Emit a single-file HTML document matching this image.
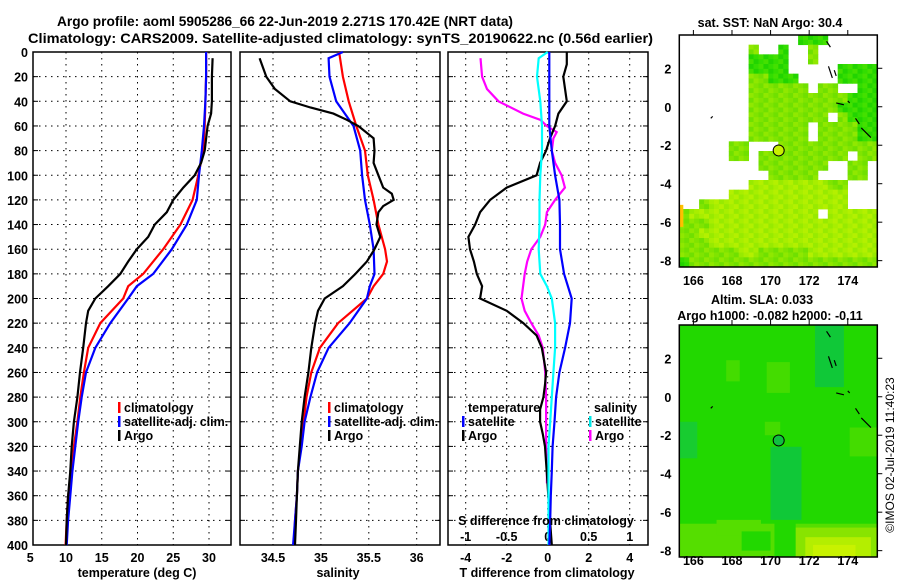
<!DOCTYPE html>
<html><head><meta charset="utf-8">
<style>
html,body{margin:0;padding:0;background:#fff;width:900px;height:580px;overflow:hidden}
svg{display:block;font-family:"Liberation Sans",Arial,sans-serif;font-weight:bold}
</style></head>
<body>
<svg id="chart" width="900" height="580" viewBox="0 0 900 580" xmlns="http://www.w3.org/2000/svg">
<text x="57" y="26" font-size="14" textLength="456" lengthAdjust="spacingAndGlyphs">Argo profile: aoml 5905286_66 22-Jun-2019 2.271S 170.42E (NRT data)</text>
<text x="28" y="43" font-size="14" textLength="625" lengthAdjust="spacingAndGlyphs">Climatology: CARS2009. Satellite-adjusted climatology: synTS_20190622.nc (0.56d earlier)</text>
<g id="g"></g>
</svg>
<script>
// ---------- data ----------
const depths = [0,20,40,60,80,100,120,140,160,180,190,200,220,240,260,280,300,320,340,360,380,400];
const tempClim = [29.6,29.6,29.5,29.4,29.2,28.5,27.7,26.0,23.6,20.8,18.7,18.0,14.8,13.1,12.5,12.0,11.6,11.1,10.8,10.3,10.1,9.95];
const tempSat  = [29.6,29.6,29.5,29.3,29.0,28.6,28.3,26.9,24.8,22.2,19.9,18.7,16.2,14.1,12.8,12.2,11.7,11.3,10.9,10.6,10.3,10.1];
const argoDepthT = [5,20,40,50,60,80,90,100,110,120,130,140,150,160,170,180,190,200,210,220,240,260,280,300,320,340,360,380,400];
const tempArgo = [30.5,30.4,30.4,30.3,29.8,29.4,28.9,28.0,26.4,25.0,24.1,22.4,21.5,19.9,18.7,17.6,15.9,14.1,13.1,12.8,12.4,11.96,11.6,11.1,10.8,10.6,10.3,10.1,10.0];

const salDepthC = [0,20,40,60,80,100,120,140,160,170,180,190,200,220,240,260,280,300,320,340,360,380,400];
const salClim = [35.19,35.23,35.29,35.37,35.46,35.49,35.55,35.60,35.67,35.69,35.65,35.55,35.48,35.18,34.99,34.90,34.85,34.82,34.79,34.76,34.75,34.73,34.72];
const salDepthS = [0,5,20,40,60,80,100,120,140,160,180,190,200,220,240,260,280,300,320,340,360,380,400];
const salSat = [35.23,35.08,35.09,35.16,35.34,35.41,35.43,35.46,35.51,35.55,35.56,35.51,35.48,35.30,35.08,34.96,34.89,34.83,34.80,34.76,34.75,34.73,34.71];
const salDepthA = [5,20,30,40,45,50,55,60,70,80,90,100,110,115,120,125,130,140,150,160,170,180,190,200,210,220,240,260,280,300,320,340,360,380,400];
const salArgo = [34.36,34.43,34.52,34.68,34.89,35.13,35.27,35.39,35.55,35.56,35.55,35.60,35.65,35.74,35.76,35.65,35.60,35.58,35.62,35.56,35.48,35.36,35.23,35.04,34.97,34.94,34.90,34.87,34.83,34.80,34.78,34.76,34.75,34.74,34.73];

const dDepthSat = [0,60,80,100,120,140,160,180,200,220,240,260,280,300,320,340,360,380,400];
const dTempSat = [0.08,0.08,0.2,0.36,0.57,0.6,0.6,0.8,1.17,1.09,0.85,0.57,0.41,0.33,0.24,0.2,0.15,0.12,0.08];
const dDepthArgoT = [0,10,20,40,50,60,70,80,90,100,110,120,130,140,150,160,170,180,190,200,210,220,230,240,250,260,270,280,290,300,310,320,340,360,380,400];
const dTempArgo = [0.93,0.93,0.76,0.93,0.52,0.36,0.11,-0.08,-0.37,-0.54,-2.0,-2.81,-3.3,-3.54,-3.87,-3.79,-3.6,-3.46,-3.2,-3.3,-2.0,-1.19,-0.54,-0.29,-0.18,-0.08,-0.13,-0.21,-0.37,-0.37,-0.24,-0.13,-0.05,0.03,0.11,0.2];
const dDepthSalSat = [0,5,20,40,60,80,100,120,140,160,180,190,200,220,240,260,280,300,320,340,400];
const dSalSat = [0.0,-0.11,-0.13,-0.09,-0.07,-0.07,-0.09,-0.1,-0.1,-0.11,-0.09,-0.01,0.05,0.09,0.09,0.07,0.05,0.03,0.01,0.01,0.01];
const dDepthSalArgo = [5,20,30,40,50,55,60,65,70,80,90,100,110,115,120,130,140,150,160,170,180,190,200,210,220,230,240,260,280,300,320,340,350];
const dSalArgo = [-0.82,-0.8,-0.74,-0.6,-0.3,-0.09,-0.01,0.11,0.07,0.05,0.09,0.17,0.21,0.15,0.09,-0.01,-0.03,-0.09,-0.2,-0.25,-0.28,-0.3,-0.32,-0.28,-0.2,-0.11,-0.06,-0.03,-0.02,-0.02,-0.02,-0.01,-0.01];

const depthTicks = [0,20,40,60,80,100,120,140,160,180,200,220,240,260,280,300,320,340,360,380,400];
const tempTicks = [5,10,15,20,25,30];
const salTicks = [34.5,35,35.5,36];
const dTTicks = [-4,-2,0,2,4];
const dSTicks = [-1,-0.5,0,0.5,1];
const latTicks = [2,0,-2,-4,-6,-8];
const lonTicks = [166,168,170,172,174];
const sstMask = [
"............ggg.....",
".......m..g..m......",
".......gggg..m......",
".......gggg.....gggg",
".......mmggg....gggg",
".......mmmmmm.mm..gg",
".......mmmmmmmmmmggg",
".......mmmmmmmmmgggg",
".......mmmmmmmm.mggg",
".......mmmmmm.mmmmgg",
".......mmmmmm.mmmmgg",
".....mm...mmmmmmmmmm",
".....mm.mmmmmmmmm.mm",
"........mmmmmmm..mm.",
".........mmmmm...mm.",
".......yyyyyyyymm...",
".....yyyyyyyyyyyy...",
"..myyyyyyyyyyyyyy...",
"myyyyyyyyyyyyy.yyyyy",
"mmmyyyyyyyyyyyyyyyyy",
"mmyyyyyyyyyyyyyyyyyy",
"mmmyyyyyyyyyyyyyyyyy",
"mmmmmmyymmmmmyyyyyyy",
"gmmmmmmmmmmmmmmmmmmm"];
const argoLon = 170.42, argoLat = -2.271;

// ---------- helpers ----------
const NS="http://www.w3.org/2000/svg";
const G=document.getElementById('g');
function mk(tag,attrs,parent){const e=document.createElementNS(NS,tag);for(const k in attrs)e.setAttribute(k,attrs[k]);(parent||G).appendChild(e);return e;}
const top0=52, bot0=545;
const yD = d => top0 + d*(bot0-top0)/400;
const xT = t => 66 + (t-10)*7.15;
const xS = s => 273 + (s-34.5)*95.8;
const xdT = v => 547.7 + v*20.5;
const xdS = v => 547.7 + v*82;

function panel(x0,x1,name){
  const r=mk('rect',{x:x0,y:top0,width:x1-x0,height:bot0-top0,fill:'none',stroke:'#000','stroke-width':1.5});
  
  
  depthTicks.forEach(d=>{ if(d>0&&d<400){const l=mk('line',{x1:x0,x2:x1,y1:yD(d),y2:yD(d),stroke:'#000','stroke-width':1,'stroke-dasharray':'1.5,4.5'});
    
    
    const t1=mk('line',{x1:x0,x2:x0+5,y1:yD(d),y2:yD(d),stroke:'#000'});
    
    
    const t2=mk('line',{x1:x1-5,x2:x1,y1:yD(d),y2:yD(d),stroke:'#000'});
    
    }});
}
function vgrid(vals,fx,name,lbl,ly){
  vals.forEach(v=>{const x=fx(v);
    if(x>35&&x<bot0+200){const l=mk('line',{x1:x,x2:x,y1:top0,y2:bot0,stroke:'#000','stroke-width':1,'stroke-dasharray':'1.5,4.5'});
    
    }
    if(lbl){const t=mk('text',{x:x,y:ly,'font-size':12.5,'text-anchor':'middle'});t.textContent=String(v);
    
    }
  });
}
function line(xs,ds,fx,color,name){
  const pts=xs.map((v,i)=>fx(v).toFixed(1)+','+yD(ds[i]).toFixed(1)).join(' ');
  const p=mk('polyline',{points:pts,fill:'none',stroke:color,'stroke-width':2.2,'stroke-linejoin':'miter'});
  
  
}
function txt(x,y,s,name,size,anchor,parent){const t=mk('text',{x:x,y:y,'font-size':size||12.5,'text-anchor':anchor||'start'},parent);t.textContent=s;
  
  return t;}
function legend(x,y,color,label,name){
  const r=mk('rect',{x:x,y:y-10,width:2.5,height:11,fill:color});
  
  
  txt(x+6,y,label,name+'-label');
}

// ---------- panel 1: temperature ----------
panel(33,231,'temperature-panel');
vgrid(tempTicks,xT,'temperature-x',true,562);
depthTicks.forEach(d=>txt(28,yD(d)+5,String(d),'depth-tick-label',12.5,'end'));
line(tempClim,depths,xT,'#ff0000','temperature-climatology-line');
line(tempSat,depths,xT,'#0000ff','temperature-satellite-line');
line(tempArgo,argoDepthT,xT,'#000000','temperature-argo-line');
txt(137,577,'temperature (deg C)','temperature-axis-title',12.5,'middle');
legend(118,412,'#ff0000','climatology','temperature-legend-climatology');
legend(118,426,'#0000ff','satellite-adj. clim.','temperature-legend-satellite');
legend(118,440,'#000000','Argo','temperature-legend-argo');

// ---------- panel 2: salinity ----------
panel(240,440,'salinity-panel');
vgrid(salTicks,xS,'salinity-x',true,562);
line(salClim,salDepthC,xS,'#ff0000','salinity-climatology-line');
line(salSat,salDepthS,xS,'#0000ff','salinity-satellite-line');
line(salArgo,salDepthA,xS,'#000000','salinity-argo-line');
txt(338,577,'salinity','salinity-axis-title',12.5,'middle');
legend(328,412,'#ff0000','climatology','salinity-legend-climatology');
legend(328,426,'#0000ff','satellite-adj. clim.','salinity-legend-satellite');
legend(328,440,'#000000','Argo','salinity-legend-argo');

// ---------- panel 3: differences ----------
panel(448,648,'difference-panel');
vgrid(dTTicks,xdT,'t-difference-x',true,562);
dSTicks.forEach(v=>txt(xdS(v),541,String(v),'s-difference-tick-label',12.5,'middle'));
line(dSalArgo,dDepthSalArgo,xdS,'#ff00ff','salinity-argo-difference-line');
line(dTempArgo,dDepthArgoT,xdT,'#000000','temperature-argo-difference-line');
line(dSalSat,dDepthSalSat,xdS,'#00ffff','salinity-satellite-difference-line');
line(dTempSat,dDepthSat,xdT,'#0000ff','temperature-satellite-difference-line');
txt(546,525,'S difference from climatology','s-difference-axis-title',12.5,'middle');
txt(547,577,'T difference from climatology','t-difference-axis-title',12.5,'middle');
txt(468,412,'temperature','difference-legend-temperature-heading');
legend(462,426,'#0000ff','satellite','difference-legend-t-satellite');
legend(462,440,'#000000','Argo','difference-legend-t-argo');
txt(594,412,'salinity','difference-legend-salinity-heading');
legend(589,426,'#00e8e8','satellite','difference-legend-s-satellite');
legend(589,440,'#ff00ff','Argo','difference-legend-s-argo');

// ---------- maps ----------
const MX0=679.3, MX1=877.3, LON0=165.27, LON1=175.53, LAT0=3.73, LAT1=-8.33;
const mx = lon => MX0 + (lon-LON0)*(MX1-MX0)/(LON1-LON0);
function mapAxes(y0,y1,name,labY){
  const my = lat => y0 + (LAT0-lat)*(y1-y0)/(LAT0-LAT1);
  const f=mk('rect',{x:MX0,y:y0,width:MX1-MX0,height:y1-y0,fill:'none',stroke:'#000','stroke-width':1.5});
  
  
  latTicks.forEach(l=>{txt(MX0-8,my(l)+5,String(l),name+'-lat-label',12.5,'end');
    const t=mk('line',{x1:MX1,x2:MX1+5,y1:my(l),y2:my(l),stroke:'#000'});
    
    });
  lonTicks.forEach(l=>{txt(mx(l),labY,String(l),name+'-lon-label',12.5,'middle');
    const t=mk('line',{x1:mx(l),x2:mx(l),y1:y0-5,y2:y0,stroke:'#000'});
    
    });
  const c=mk('circle',{cx:mx(argoLon),cy:my(argoLat),r:5.5,fill:name==='sst-map'?'#c8f000':'#10c040',stroke:'#000','stroke-width':1});
  
  
  const coast=[[172.9,3.4,173.1,3.1],[173.0,2.1,173.2,1.5],[173.3,1.9,173.4,1.6],[173.4,0.2,173.8,0.1],[174.0,0.3,174.1,0.2],[174.4,-0.6,174.6,-0.9],[174.7,-1.1,175.2,-1.6],[167.0,-0.5,166.9,-0.6]];
  coast.forEach(c=>{const p=mk('line',{x1:mx(c[0]),y1:my(c[1]),x2:mx(c[2]),y2:my(c[3]),stroke:'#000','stroke-width':1.2});
    
    });
  return my;
}
// SST map
(function(){
  const y0=35,y1=267;
  const cols=sstMask[0].length, rows=sstMask.length;
  const cw=(MX1-MX0)/cols, ch=(y1-y0)/rows;
  const colr={g:['#33dd00','#44e000','#22d400'],m:['#80e400','#70e000','#90e800'],y:['#a8ee00','#b4f000','#98ea00']};
  const gm=mk('g',{});
  
  
  sstMask.forEach((row,r)=>{[...row].forEach((c,k)=>{ if(c!=='.'){
    const pal=colr[c];
    for(let a=0;a<2;a++)for(let b=0;b<2;b++){
      mk('rect',{x:MX0+k*cw+a*cw/2,y:y0+r*ch+b*ch/2,width:cw/2+0.4,height:ch/2+0.4,fill:pal[(r*3+k*5+a*7+b*11)%3]},gm);}
  }});});
  mk('rect',{x:MX0,y:y0+(LAT0+5.1)*(y1-y0)/12.06,width:4,height:22,fill:'#ffc000'},gm);
  mapAxes(y0,y1,'sst-map',285);
  txt(770,27,'sat. SST: NaN Argo: 30.4','sst-map-title',12.5,'middle');
})();
// SLA map
(function(){
  const y0=325,y1=557;
  const my = lat => y0 + (LAT0-lat)*(y1-y0)/(LAT0-LAT1);
  const gm=mk('g',{});
  
  
  const patches=[[165.27,175.53,3.73,-8.33,'#22d800'],[172.3,173.8,3.73,0.5,'#10c838'],[165.27,166.2,-1.3,-3.2,'#18cc30'],
    [170.0,171.6,-2.6,-6.4,'#10c838'],[167.7,168.4,1.9,0.8,'#44dc00'],[169.8,171.0,1.8,0.2,'#44dc00'],[169.7,170.5,-1.3,-2.0,'#44dc00'],
    [174.1,175.53,-1.6,-3.1,'#44dc00'],[165.27,175.53,-6.6,-8.33,'#55de00'],[167.2,169.5,-6.4,-7.2,'#55de00'],
    [171.2,175.53,-6.8,-8.33,'#88e400'],[171.8,175.2,-7.3,-8.33,'#b4ee00'],[172.2,174.4,-7.7,-8.33,'#c8f200'],
    [168.5,170.0,-7.0,-8.0,'#22d800'],[170.2,171.3,-6.5,-8.33,'#22d800']];
  patches.forEach(p=>mk('rect',{x:mx(p[0]),y:my(p[2]),width:mx(p[1])-mx(p[0]),height:my(p[3])-my(p[2]),fill:p[4]},gm));
  mapAxes(y0,y1,'sla-map',565);
  txt(762,304,'Altim. SLA: 0.033','sla-map-title',12.5,'middle');
  txt(770,320,'Argo h1000: -0.082 h2000: -0.11','sla-map-subtitle',12.5,'middle');
})();
const cr=txt(0,0,'©IMOS 02-Jul-2019 11:40:23','imos-credit',12,'middle');
cr.setAttribute('font-weight','normal');
cr.setAttribute('transform','translate(894,455) rotate(-90)');
</script>
</body></html>
